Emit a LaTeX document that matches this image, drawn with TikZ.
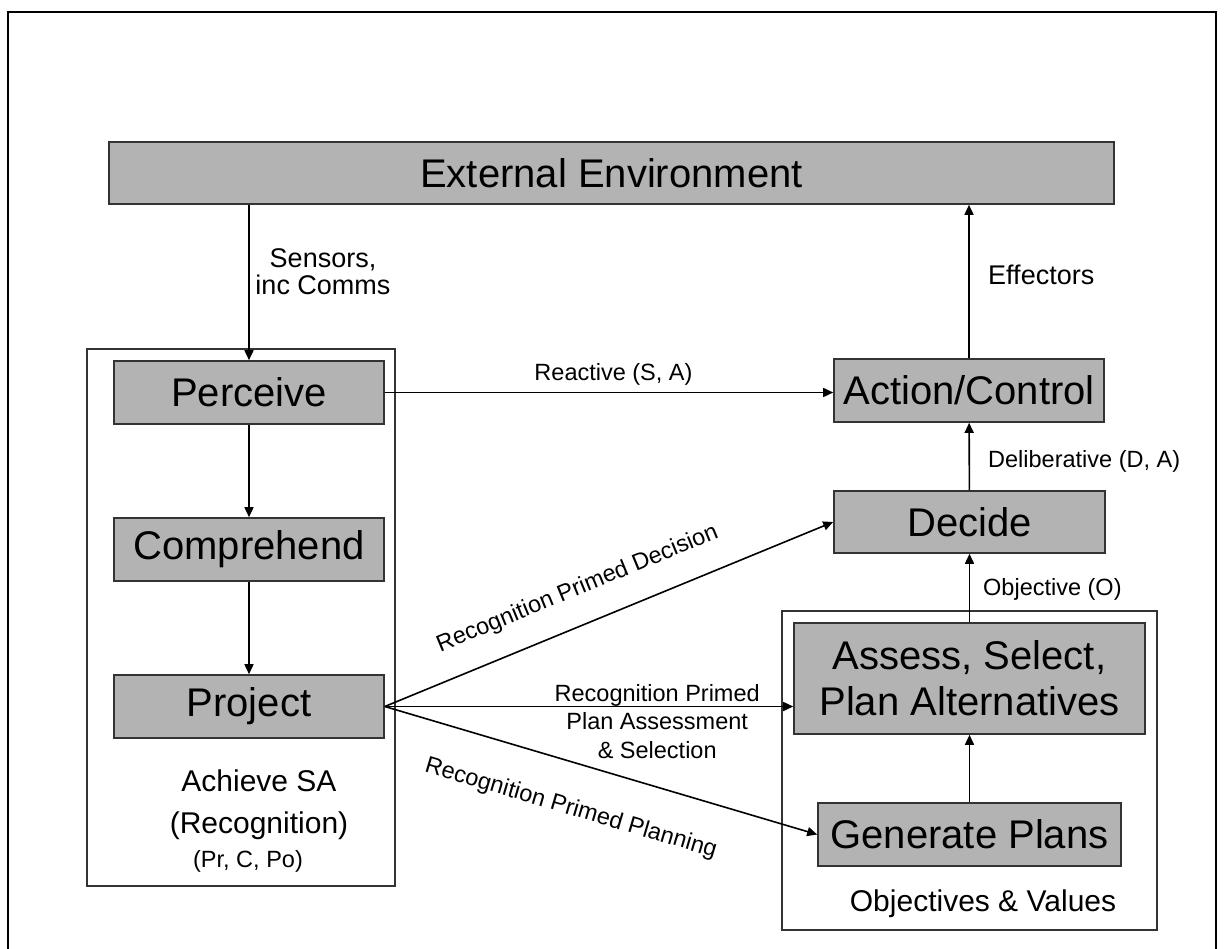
\documentclass[tikz,border=0pt]{standalone}
\usepackage{fontspec}
\setmainfont{Liberation Sans}
\usetikzlibrary{arrows.meta}
\definecolor{boxgray}{RGB}{179,179,179}
\definecolor{edgegray}{RGB}{51,51,51}
\newcommand{\boxfont}{\fontsize{40}{46}\selectfont}
\newcommand{\tagfont}{\fontsize{23.5}{28.5}\selectfont}
\newcommand{\iofont}{\fontsize{27}{27}\selectfont}
\newcommand{\notefont}{\fontsize{30}{42}\selectfont}

\begin{document}
\begin{tikzpicture}[x=1pt,y=-1pt,
  stage/.style={draw=edgegray, line width=1.6pt, fill=boxgray, inner sep=0pt,
    minimum width=270pt, minimum height=63pt, font=\boxfont},
  group/.style={draw=edgegray, line width=1.6pt},
  arr/.style={line width=1.6pt, -{Triangle[length=10pt,width=9pt]}},
  tag/.style={inner sep=0pt, font=\tagfont}]
\useasboundingbox (0,0) rectangle (1225,949);

 % frame
 \draw[line width=2.5pt] (8,949) -- (8,12) -- (1216,12) -- (1216,949);

 % environment
 \coordinate (E) at (611.5,173);
 \node[stage, minimum width=1005pt, minimum height=62pt] (env) at (E) {External Environment};

 % achieve SA
 \coordinate (P) at (249,392.5);
 \coordinate (C) at (249,549.5);
 \coordinate (J) at (249,706.5);
 \draw[group] (87,349) rectangle (395,886);
 \node[stage] (perceive) at (P) {Perceive};
 \node[stage] (comprehend) at (C) {Comprehend};
 \node[stage] (project) at (J) {Project};
 \node[tag, font=\notefont, align=center, anchor=north] (sanote) at (259,770) {Achieve SA\\(Recognition)};
 \node[tag, anchor=base] (sacodes) at (248,867) {(Pr, C, Po)};

 % act / decide
 \coordinate (A) at (969,390.5);
 \coordinate (D) at (969.5,522);
 \node[stage] (action) at (A) {Action/Control};
 \node[stage, minimum width=271pt, minimum height=62pt] (decide) at (D) {Decide};

 % objectives & values
 \coordinate (S) at (969.5,678.5);
 \coordinate (G) at (969.5,834.5);
 \draw[group] (782,611) rectangle (1157,930);
 \node[stage, align=center, minimum width=351pt, minimum height=111pt] (assess) at (S) {Assess, Select,\\Plan Alternatives};
 \node[stage, minimum width=303pt] (generate) at (G) {Generate Plans};
 \node[tag, font=\notefont, anchor=base] (objnote) at (983,911) {Objectives \& Values};

 % connectors
 \draw[arr] (env.south -| perceive) -- (perceive.north);
 \node[tag, font=\iofont, align=center] (sensors) at (323,272) {Sensors,\\inc Comms};
 \draw[arr] (perceive) -- (comprehend);
 \draw[arr] (comprehend) -- (project);
 \draw[arr] (perceive.east) -- node[tag, above=6pt, pos=.51] (reactive) {Reactive (S, A)} (perceive.east -| action.west);
 \draw[arr] (action) -- (action |- env.south);
 \node[tag, font=\iofont, anchor=base west] (effectors) at (988,285) {Effectors};
 \draw[arr] (decide) -- (action);
 \node[tag, anchor=base west] (delib) at (988,467) {Deliberative (D, A)};
 \draw[arr] (assess) -- (decide);
 \node[tag, anchor=base west] (objective) at (983,595) {Objective (O)};
 \draw[arr] (generate) -- (assess);
 \draw[arr] (project.east) -- node[tag, sloped, above=23.5pt, pos=.46] (rpd) {Recognition Primed Decision} (decide.west);
 \draw[arr] (project.east) -- node[tag, align=center, pos=.667, yshift=-15pt] (rpa) {Recognition Primed\\Plan Assessment\\\& Selection} (project.east -| assess.west);
 \draw[arr] (project.east) -- node[tag, sloped, below=33.5pt, pos=.46] (rpp) {Recognition Primed Planning} (generate.west);
\end{tikzpicture}
\end{document}
